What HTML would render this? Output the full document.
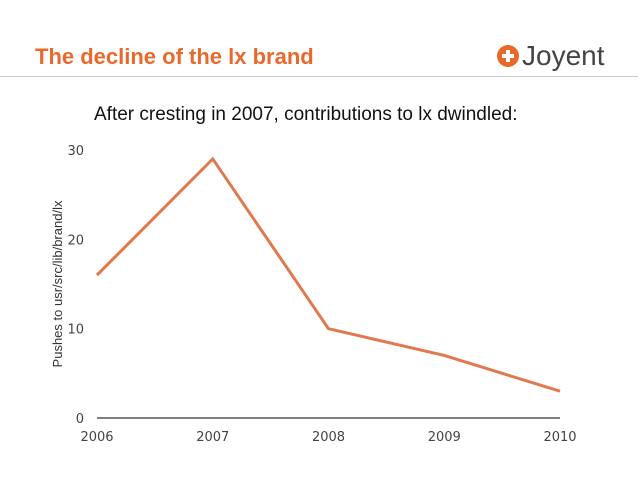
<!DOCTYPE html>
<html><head><meta charset="utf-8"><style>
body{margin:0;width:638px;height:479px;background:#fff;overflow:hidden;font-family:"Liberation Sans",sans-serif;position:relative}
.t{position:absolute;left:35px;top:44px;font-size:22px;font-weight:bold;color:#e8692b}
.hr{position:absolute;left:0;top:76px;width:638px;height:1px;background:#ccc}
.sub{position:absolute;left:94px;top:104px;font-size:19px;color:#111}
.logo{position:absolute;left:497px;top:40px;font-size:28px;color:#444;display:flex;align-items:center}
.dot{width:22px;height:22px;border-radius:50%;background:#e8692b;position:relative;margin-right:3px}
.dot:before{content:"";position:absolute;left:5px;top:9px;width:12px;height:4px;background:#fff}
.dot:after{content:"";position:absolute;left:9px;top:5px;width:4px;height:12px;background:#fff}
</style></head><body>
<div class="t">The decline of the lx brand</div>
<div class="logo"><div class="dot"></div>Joyent</div>
<div class="hr"></div>
<div class="sub">After cresting in 2007, contributions to lx dwindled:</div>
<svg id="c" width="638" height="479" style="position:absolute;left:0;top:0"></svg>
<script>
const years=["2006","2007","2008","2009","2010"];
const pushes=[16,29,10,7,3];
const yTicks=[0,10,20,30];
const NS="http://www.w3.org/2000/svg";
const svg=document.getElementById('c');
const x0=97,x1=560,yb=418,yt=150;
const xs=i=>x0+i*(x1-x0)/(years.length-1);
const ys=v=>yb-v*(yb-yt)/30;
function mk(t,a){const e=document.createElementNS(NS,t);for(const k in a)e.setAttribute(k,a[k]);svg.appendChild(e);return e;}
const ax=mk('line',{x1:x0,x2:x1,y1:yb,y2:yb,stroke:'#333','stroke-width':1.2});


yTicks.forEach(v=>{const t=mk('text',{x:84,y:ys(v)+5,'text-anchor':'end','font-size':13,fill:'#444','font-family':'DejaVu Sans, sans-serif'});t.textContent=v;

});
years.forEach((y,i)=>{const t=mk('text',{x:xs(i),y:441,'text-anchor':'middle','font-size':13,fill:'#444','font-family':'DejaVu Sans, sans-serif'});t.textContent=y;

});
const yt2=mk('text',{transform:'translate(62,284) rotate(-90)','text-anchor':'middle','font-size':13,fill:'#333','font-family':'Liberation Sans, sans-serif'});
yt2.textContent='Pushes to usr/src/lib/brand/lx';


const ln=mk('polyline',{points:pushes.map((v,i)=>xs(i)+','+ys(v)).join(' '),fill:'none',stroke:'#e07a4e','stroke-width':3,'stroke-linejoin':'miter'});


</script>
</body></html>
